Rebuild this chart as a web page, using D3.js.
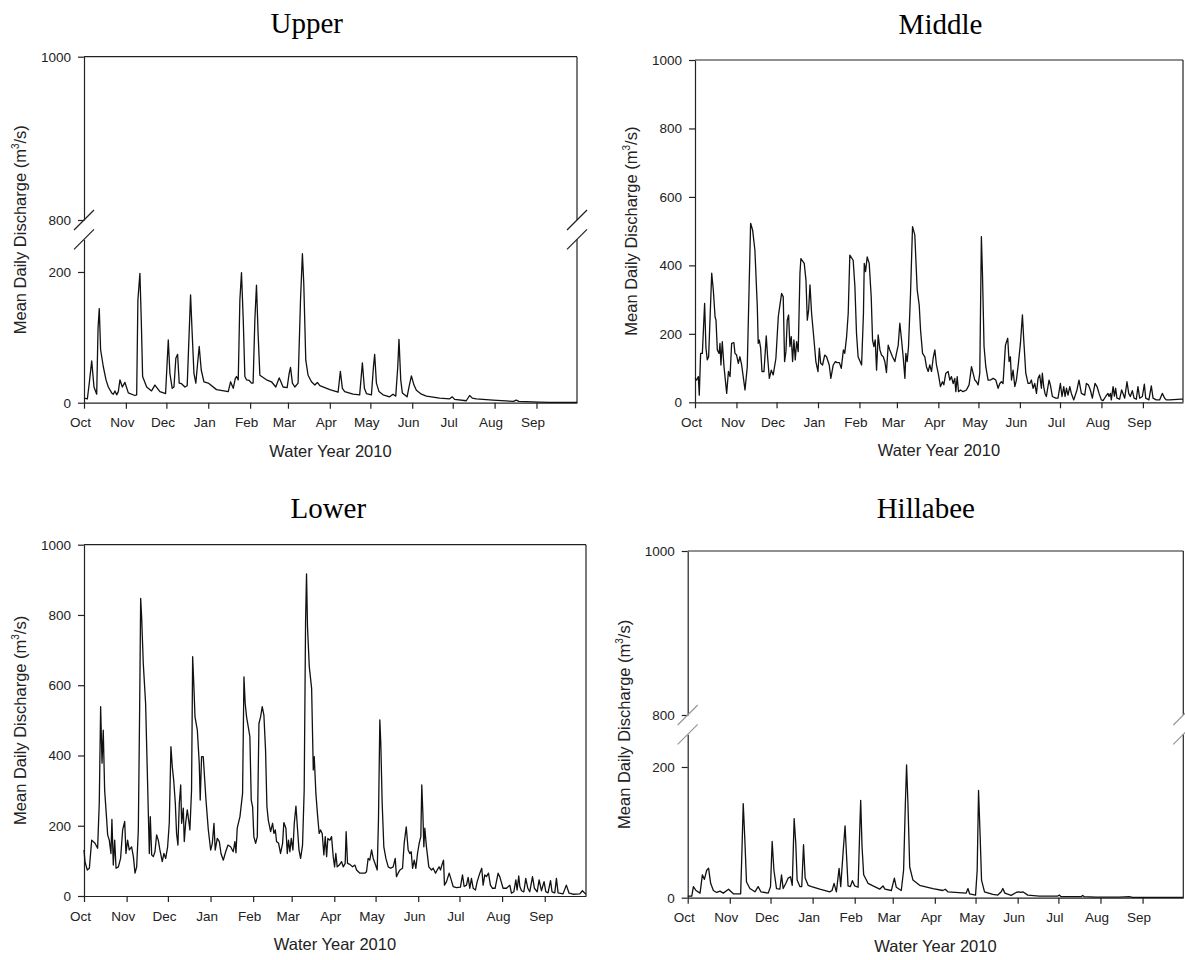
<!DOCTYPE html>
<html>
<head>
<meta charset="utf-8">
<script src="https://cdn.jsdelivr.net/npm/d3@7"></script>
<style>
  body { margin: 0; background: #fff; }
</style>
</head>
<body>
<div class="canvas"></div>
<script>
//=============== Data (day from 1 Oct 2009, discharge m3/s) ===============//
const monthLabels = ['Oct', 'Nov', 'Dec', 'Jan', 'Feb', 'Mar', 'Apr', 'May', 'Jun', 'Jul', 'Aug', 'Sep'];
const fullTicks = [0, 200, 400, 600, 800, 1000];
const lowTicks = [0, 200];
const highTicks = [800, 1000];

const upperFlow = [[0,7],[2.5,6],[3.9,30],[5.7,64],[7.4,24],[9.4,13],[10.4,114],[11.3,144],[12.3,81],[14.3,55],[16.3,35],[18,24],[20.5,15],[21.7,13],[22.9,18],[24.2,12],[25.4,17],[26.6,35],[28.4,24],[30.3,31],[32.8,15],[37.7,11],[39,12],[39.9,157],[41.4,198],[42.4,127],[43.4,40],[46.4,24],[50,18],[52.5,27],[56.2,17],[60.4,14],[61.4,55],[62.4,96],[63.6,45],[65.3,22],[66.6,24],[68,68],[69.3,74],[70.5,30],[72.2,29],[74.7,24],[76.4,26],[78.9,165],[80.1,106],[81.4,45],[82.8,30],[84.1,60],[85.3,86],[86.8,50],[88.8,32],[92,30],[98.1,20],[106.8,17],[108.5,32],[110.5,22],[112,37],[112.9,40],[114.2,35],[115.4,157],[116.6,199],[117.9,127],[119.1,40],[120.3,35],[122.3,34],[124,30],[125.2,30],[126.5,127],[127.7,180],[128.9,106],[130.2,42],[135.1,35],[138.8,32],[142,24],[144.5,38],[147.4,24],[150.4,23],[151.9,45],[152.9,54],[154.3,30],[156.1,24],[158.5,30],[160.3,157],[161.7,228],[162.7,183],[164.2,65],[165.9,42],[168.4,32],[170.9,27],[172.8,31],[174.6,26],[182,20],[188.1,16],[189.8,48],[191.3,22],[193,17],[199.2,13],[204.1,12],[206.1,61],[207.6,22],[209.1,14],[212.8,12],[214.3,55],[215.2,74],[216.5,30],[218.4,17],[221.4,12],[226.3,9],[228.8,13],[230.8,10],[232.3,55],[233.2,97],[234.5,35],[235.7,15],[239.2,9],[240.6,24],[242.4,41],[244.3,27],[246.1,19],[249.8,13],[253.5,10],[263.3,7],[270.7,6],[272.7,9],[274.4,5],[283,3],[285.5,11],[287.5,7],[290.4,6],[302.8,4],[318,2],[320,4],[322,2],[337,1],[345,0.5],[365,0.5]];

const middleFlow = [[0,70],[1.2,65],[2.5,75],[3.2,21],[4.2,143],[5.5,143],[7.2,289],[8.2,158],[9.2,124],[10.2,133],[12.5,377],[13.7,328],[15,250],[15.7,240],[16.7,153],[18,143],[18.7,172],[19.4,109],[20.4,177],[21.7,104],[23.7,26],[25,90],[26.2,75],[27.4,172],[29.1,174],[29.9,143],[31.1,138],[32.4,114],[33.6,133],[34.9,109],[37.4,36],[39.1,104],[40.6,357],[41.6,523],[43.1,503],[44.8,445],[46.6,279],[47.3,172],[48.1,182],[49.1,158],[50.1,90],[51.6,90],[53.3,194],[54.3,133],[55.6,70],[57.1,94],[58.5,80],[60.5,128],[62.3,250],[63.5,284],[64.8,318],[66,308],[67,119],[68,148],[69,240],[70,255],[71,163],[72,192],[73,119],[74,182],[75,124],[76,177],[77.2,148],[78.5,377],[79.2,420],[81.7,406],[83,357],[84,240],[85,270],[86,343],[87.2,260],[89,182],[90.4,119],[92,90],[93,158],[94,114],[95.4,109],[97,138],[98.4,133],[100.4,109],[101.6,70],[103.4,109],[105,119],[106.4,116],[108,116],[109.4,99],[111,153],[112,143],[113.4,192],[114.6,260],[115.8,430],[118.3,415],[119.6,338],[120.8,201],[122,133],[124.6,109],[126,260],[126.6,406],[127.6,382],[128.8,425],[130.3,406],[131.8,308],[132.8,182],[133.8,163],[134.8,182],[135.8,94],[137,197],[138.3,153],[139.5,138],[140.8,133],[142,119],[143.2,87],[144.5,167],[145.7,153],[147.7,133],[149.5,119],[150.7,143],[152,167],[153.2,231],[154.5,182],[155.7,133],[157,70],[157.7,143],[158.7,119],[159.7,163],[161.2,318],[162.7,513],[164.4,489],[166.2,328],[167.7,284],[168.7,211],[170.2,143],[171.9,133],[173.1,104],[174.4,90],[175.6,109],[176.9,90],[178.1,128],[179.4,153],[180.6,109],[181.9,85],[183.6,46],[185.1,60],[186.1,51],[187.6,85],[189.3,90],[190.6,65],[191.8,75],[193.1,55],[194.3,70],[195.1,31],[196.1,75],[197.1,31],[198.6,36],[200.5,31],[203,36],[205,51],[206.8,104],[208,85],[209.3,65],[210.5,60],[211.8,51],[213,85],[214.2,484],[215,377],[216.2,163],[217.5,104],[219.2,65],[221,65],[223,70],[225,65],[226.7,41],[228,55],[229.2,60],[230.4,55],[232.2,167],[233.9,187],[234.9,119],[235.9,133],[236.7,65],[237.9,94],[239.2,46],[240.4,65],[241.9,114],[243.4,172],[244.9,255],[245.9,182],[247.4,85],[249.1,55],[250.4,55],[251.6,65],[252.9,41],[254.1,55],[255.4,26],[256.6,70],[257.8,80],[259.1,41],[259.8,85],[260.8,46],[261.8,26],[262.8,17],[264.8,65],[265.8,51],[267.3,17],[269.8,12],[271.5,12],[273.3,55],[274.5,17],[275.8,46],[276.8,17],[277.8,41],[279,21],[280.3,46],[281.5,26],[283.3,7],[285.7,36],[287.2,65],[289,26],[291.5,21],[292.7,55],[294.2,51],[295.7,36],[297.2,12],[299.2,55],[300.7,46],[302.2,26],[303.9,7],[305.2,5],[307.2,17],[308.9,26],[309.7,17],[310.7,26],[311.4,7],[312.7,46],[313.7,18],[314.6,41],[315.6,12],[317.6,9],[319.1,36],[320.1,26],[321.4,12],[323.1,60],[324.4,26],[325.6,17],[327.1,34],[328.4,12],[330.1,9],[331.3,46],[332.6,12],[334.6,17],[336.1,53],[337.1,12],[339.5,7],[341.3,48],[342.6,12],[345,7],[347.5,7],[349.5,26],[351.3,12],[352.5,7],[355,7],[363.7,9],[365,9]];

const lowerFlow = [[0,131],[0.7,98],[2.4,74],[3.9,79],[5.6,159],[8,150],[9.9,136],[11.1,264],[12.1,539],[13.1,378],[14,472],[15,302],[16.5,216],[17.2,174],[18.4,159],[19.6,121],[20.3,218],[21.3,88],[22.3,159],[23.3,79],[25,83],[26.6,107],[28.1,188],[29.6,212],[30.5,121],[31.7,159],[32.9,131],[34.6,140],[35.9,112],[37.1,65],[38.3,83],[39.5,188],[40.5,548],[41.2,847],[41.9,795],[43.1,662],[44.8,548],[46.3,311],[47.5,121],[48.2,226],[49.2,117],[50.4,112],[51.6,126],[52.8,174],[54,159],[55.2,131],[56.9,98],[58.1,121],[59.4,107],[60.8,140],[62,207],[63.2,425],[64.2,368],[65.2,330],[66.4,264],[67.3,178],[68.3,145],[69.3,264],[70.3,316],[71,207],[72.2,250],[72.9,155],[73.9,207],[75.1,245],[76.1,216],[77,188],[78.2,302],[79,681],[79.9,596],[80.7,510],[82.4,472],[83.8,378],[84.5,273],[85.5,397],[86.7,397],[88.7,273],[90.4,188],[92.1,131],[93.3,150],[94.5,207],[95.4,131],[96.9,164],[98.4,155],[99.6,121],[101.3,102],[103,126],[104.7,145],[106.6,140],[108.5,126],[109.7,155],[110.5,123],[111.4,193],[113.4,226],[115.3,292],[116.3,624],[117.2,548],[118.2,510],[119.4,482],[120.6,454],[121.6,273],[122.6,254],[123.5,169],[124.8,150],[126,169],[127.2,491],[128.4,510],[129.6,539],[130.8,515],[132,416],[133,254],[134,216],[135.7,183],[137.1,207],[138.1,178],[139.1,188],[140,155],[141.5,150],[142.9,121],[144.4,150],[145.3,209],[146.8,193],[147.8,121],[148.7,159],[149.7,126],[150.7,164],[151.9,131],[152.9,207],[154.1,256],[155.3,188],[156.3,131],[157.5,107],[158.9,145],[160.1,302],[161.1,781],[161.8,917],[162.5,767],[163.8,653],[165.5,591],[166.7,359],[167.4,397],[168.6,292],[169.8,231],[171,178],[172,188],[173.2,178],[174.4,117],[175.4,169],[176.4,112],[177.3,164],[178.8,159],[180,169],[181.2,112],[182.2,83],[183.1,121],[184.1,83],[185.6,88],[187.3,98],[188.5,83],[189.9,93],[190.6,183],[191.6,93],[193.3,90],[195.3,83],[197,88],[198.2,74],[200.6,65],[204.2,65],[205.4,69],[206.6,107],[207.8,102],[209.1,131],[210.3,107],[212,88],[213.2,74],[214.1,216],[215.1,501],[215.8,435],[216.8,264],[218,140],[219.5,107],[221.2,83],[222.9,79],[224.8,83],[226.3,107],[227.2,55],[228.4,65],[229.7,74],[231.6,79],[232.8,150],[234.3,197],[235.7,131],[236.9,121],[237.9,126],[238.9,79],[240.1,102],[241.3,79],[242.5,121],[243.7,150],[244.9,169],[245.6,316],[246.4,235],[247.1,140],[247.8,193],[249,140],[250.7,83],[252.7,74],[253.9,79],[255.6,65],[256.8,74],[258.2,83],[259.2,74],[260.2,88],[261.4,102],[262.1,31],[263.6,41],[265.5,65],[267,46],[268.4,27],[270.8,24],[273.7,25],[275.2,60],[276.4,27],[278.1,31],[279.3,53],[280.5,22],[281.7,50],[283,22],[284.6,17],[285.9,41],[287.8,65],[289.2,79],[290.2,31],[291.4,60],[292.6,55],[294.1,65],[295.5,31],[297,22],[298.9,22],[301.1,65],[302.3,55],[304.7,22],[307.2,22],[309.6,31],[310.8,8],[312.5,12],[314,46],[314.9,17],[316.1,57],[316.9,27],[318.1,15],[319.8,12],[321.2,50],[322.7,22],[324.1,12],[326.1,55],[327.5,22],[329.5,12],[330.9,46],[332.6,15],[334.5,41],[335.8,12],[337.4,9],[339.2,44],[340.3,12],[342.3,9],[343.5,50],[344.7,9],[348.3,6],[350.7,31],[352.7,8],[355.6,5],[360.5,6],[362.4,15],[364.6,6],[365,6]];

const hillabeeFlow = [[0,2.5],[3,2.5],[4.2,17],[6.1,11],[9.1,7],[10.8,35],[12.3,28],[14,42],[15.4,45],[16.9,22],[18.9,11],[21.3,8],[23.8,10],[26.2,7],[30.1,13],[33.6,6],[39,6],[39.9,68],[40.9,144],[42.1,88],[43.3,24],[45.8,14],[49.5,9],[51.9,17],[53.9,9],[59.3,7],[61,17],[62.2,86],[63.5,42],[65.4,14],[67.9,13],[69.1,35],[70.3,14],[72.3,22],[74,30],[75.7,32],[77,19],[78.4,121],[79.6,83],[80.6,27],[82.6,17],[84,17],[85.3,81],[86.5,30],[88.7,19],[91.2,17],[97.3,13],[104.6,9],[106.3,11],[107.8,22],[109.5,9],[111.5,45],[112.7,17],[114.4,68],[115.9,110],[116.9,68],[118.1,18],[119.8,17],[121.3,26],[123,18],[125.5,16],[126.7,104],[127.4,149],[128.4,78],[129.6,35],[132.8,22],[136.5,18],[141.4,13],[143.8,18],[145.3,13],[150,11],[152.2,30],[153.6,16],[157.3,11],[159,42],[160.3,144],[161.2,203],[162.2,144],[163.5,47],[165.9,27],[170.8,19],[180.6,14],[187.9,11],[189.7,13],[191.6,9],[205.1,7],[206.4,14],[207.6,6],[212,4],[213.2,42],[214.2,164],[215.4,93],[216.4,27],[218.6,9],[224.7,5],[228.4,4],[230.9,9],[232.1,14],[233.6,7],[238.2,3.5],[241.9,8],[243.8,9],[245.6,8],[246.8,9],[250.5,4],[259,2.5],[272.5,2.5],[273.7,4],[275,1.5],[289.7,1.5],[290.9,3.5],[292.1,1.5],[300.7,1],[318,1],[325.2,1.5],[327.7,0.5],[365,0.5]];

//=============== Panel layout ===============//
const panels = [
    { title: 'Upper', data: upperFlow, left: 84, right: 577, top: 56.7, bottom: 402.7,
      broken: true, lowTop: 239.3, highBottom: 220, slashColor: '#222', titleX: 306.7, titleY: 33 },
    { title: 'Middle', data: middleFlow, left: 695, right: 1183, top: 60, bottom: 402.3,
      broken: false, titleX: 940.5, titleY: 34.3 },
    { title: 'Lower', data: lowerFlow, left: 84, right: 586, top: 544.7, bottom: 896,
      broken: false, titleX: 328.3, titleY: 518.3 },
    { title: 'Hillabee', data: hillabeeFlow, left: 687.7, right: 1183.3, top: 551, bottom: 897.7,
      broken: true, lowTop: 734.3, highBottom: 715, slashColor: '#999', titleX: 925.8, titleY: 518.3 }
];

const sans = '"Liberation Sans", Arial, sans-serif';
const serif = '"Liberation Serif", "Times New Roman", serif';
const axisColor = '#222';

const start = new Date(2009, 9, 1);
const end = new Date(2010, 9, 1);
const dayToDate = d => new Date(start.getTime() + d * 864e5);

const svg = d3.select('.canvas')
    .append('svg')
    .attr('width', 1185)
    .attr('height', 960);

//=============== Draw one panel ===============//
const drawPanel = (p) => {
    const g = svg.append('g');

    const x = d3.scaleTime()
        .domain([start, end])
        .range([p.left, p.right]);

    let yPos;
    const yAxes = [];
    if (p.broken) {
        const yLow = d3.scaleLinear().domain([0, 250]).range([p.bottom, p.lowTop]);
        const yHigh = d3.scaleLinear().domain([800, 1000]).range([p.highBottom, p.top]);
        yPos = v => v <= 250 ? yLow(v) : yHigh(v);
        yAxes.push(d3.axisLeft(yLow).tickValues(lowTicks));
        yAxes.push(d3.axisLeft(yHigh).tickValues(highTicks));
    } else {
        const y = d3.scaleLinear().domain([0, 1000]).range([p.bottom, p.top]);
        yPos = y;
        yAxes.push(d3.axisLeft(y).tickValues(fullTicks));
    }

    // y axes (left)
    yAxes.forEach(ax => {
        const ag = g.append('g')
            .attr('transform', `translate(${p.left},0)`)
            .call(ax.tickSize(6).tickPadding(7).tickSizeOuter(0).tickFormat(d3.format('d')));
        ag.attr('font-family', sans).attr('font-size', 13.5).attr('color', axisColor);
        ag.select('.domain').attr('stroke-width', 1.2);
        ag.selectAll('.tick line').attr('stroke-width', 1.2);
    });

    // x axis
    const xAxis = d3.axisBottom(x)
        .tickValues(d3.timeMonth.range(start, end))
        .tickFormat((d, i) => monthLabels[i])
        .tickSize(6)
        .tickPadding(9)
        .tickSizeOuter(0);
    const xg = g.append('g')
        .attr('transform', `translate(0,${p.bottom})`)
        .call(xAxis);
    xg.attr('font-family', sans).attr('font-size', 13.5).attr('color', axisColor);
    xg.select('.domain').attr('stroke-width', 1.2);
    xg.selectAll('.tick line').attr('stroke-width', 1.2);
    xg.selectAll('.tick text').attr('dx', -4);

    // top and right frame
    const frame = g.append('g').attr('stroke', axisColor).attr('stroke-width', 1.2);
    frame.append('line').attr('x1', p.left).attr('x2', p.right).attr('y1', p.top).attr('y2', p.top);
    if (p.broken) {
        frame.append('line').attr('x1', p.right).attr('x2', p.right).attr('y1', p.top).attr('y2', p.highBottom);
        frame.append('line').attr('x1', p.right).attr('x2', p.right).attr('y1', p.lowTop).attr('y2', p.bottom);
        [p.left, p.right].forEach(sx => {
            [p.highBottom, p.lowTop].forEach(sy => {
                frame.append('line')
                    .attr('stroke', p.slashColor)
                    .attr('x1', sx - 10).attr('y1', sy + 10)
                    .attr('x2', sx + 10).attr('y2', sy - 10);
            });
        });
    } else {
        frame.append('line').attr('x1', p.right).attr('x2', p.right).attr('y1', p.top).attr('y2', p.bottom);
    }

    // discharge line
    const line = d3.line()
        .x(d => x(dayToDate(d[0])))
        .y(d => yPos(d[1]));
    g.append('path')
        .datum(p.data)
        .attr('fill', 'none')
        .attr('stroke', '#111')
        .attr('stroke-width', 1.3)
        .attr('stroke-linejoin', 'round')
        .attr('d', line);

    // titles and labels
    g.append('text')
        .attr('x', p.titleX)
        .attr('y', p.titleY)
        .attr('text-anchor', 'middle')
        .attr('font-family', serif)
        .attr('font-size', 29)
        .attr('fill', '#000')
        .text(p.title);

    g.append('text')
        .attr('x', (p.left + p.right) / 2)
        .attr('y', p.bottom + 54)
        .attr('text-anchor', 'middle')
        .attr('font-family', sans)
        .attr('font-size', 16.5)
        .attr('fill', axisColor)
        .text('Water Year 2010');

    const yl = g.append('text')
        .attr('transform', `translate(${p.left - 58},${(p.top + p.bottom) / 2}) rotate(-90)`)
        .attr('text-anchor', 'middle')
        .attr('font-family', sans)
        .attr('font-size', 16.5)
        .attr('fill', axisColor);
    yl.append('tspan').text('Mean Daily Discharge (m');
    yl.append('tspan').attr('font-size', 10).attr('dy', -7).text('3');
    yl.append('tspan').attr('dy', 7).text('/s)');
};

panels.forEach(drawPanel);
</script>
</body>
</html>
